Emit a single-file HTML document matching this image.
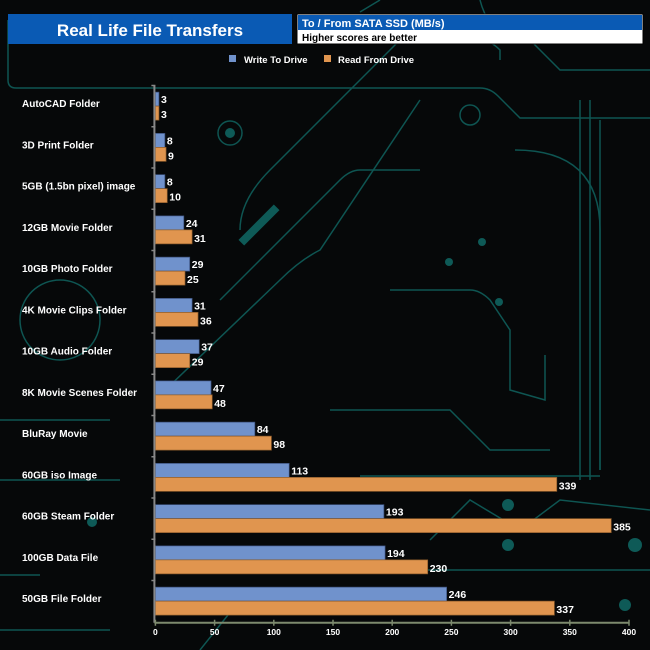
<!DOCTYPE html>
<html><head><meta charset="utf-8"><style>
html,body{margin:0;padding:0;background:#050708;}
svg{display:block;font-family:"Liberation Sans",Arial,sans-serif;}
</style></head><body>
<svg id="chart" width="650" height="650" viewBox="0 0 650 650">
<rect x="0" y="0" width="650" height="650" fill="#060809"/>
<g id="deco" fill="none" stroke="#0e5552" stroke-width="1.5">
<path d="M8,20 V80 Q8,88 16,88 H480 Q490,88 498,96 L520,118 H650"/>
<path d="M380,0 L360,12"/><path d="M480,0 Q490,40 530,40 L560,70 H650"/>
<path d="M240,230 Q240,200 270,170 L400,40 H480 Q490,40 500,50 V60"/>
<path d="M220,300 L340,180 Q350,170 360,170 H420"/>
<path d="M160,395 L280,280 Q300,260 320,250 L420,100"/>
<path d="M390,290 H470 Q480,290 490,300 L510,330 V390 L545,400 V355"/>
<path d="M330,410 H450 L490,450 H550"/>
<path d="M360,476 H600"/><path d="M515,150 Q600,150 600,230 V470"/>
<path d="M580,100 V480"/><path d="M590,100 V480"/><path d="M600,120 V470"/>
<path d="M0,420 H110"/><path d="M0,480 H120"/>
<path d="M0,575 H40"/><path d="M0,630 H110"/>
<path d="M250,570 H650"/><path d="M240,600 L200,650"/>
<path d="M430,540 L470,500 L520,530 L560,500 L650,510"/>
<circle cx="60" cy="320" r="40"/><circle cx="470" cy="115" r="10"/><circle cx="230" cy="133" r="12"/>
</g>
<g fill="#0e5a57">
<circle cx="635" cy="545" r="7"/><circle cx="625" cy="605" r="6"/><circle cx="508" cy="545" r="6"/>
<circle cx="508" cy="505" r="6"/><circle cx="92" cy="522" r="5"/><circle cx="482" cy="242" r="4"/>
<circle cx="449" cy="262" r="4"/><circle cx="499" cy="302" r="4"/><circle cx="230" cy="133" r="5"/>
<rect x="255" y="200" width="8" height="50" transform="rotate(45 259 225)"/>
</g>
<rect x="8" y="14" width="284" height="30" fill="#0a5ab4"/>
<text x="150" y="36" text-anchor="middle" fill="#fff" font-weight="bold" font-size="17">Real Life File Transfers</text>
<rect x="297" y="14" width="346" height="30" fill="#fff" stroke="#000"/>
<rect x="298" y="15" width="344" height="15" fill="#0a5ab4"/>
<text x="302" y="27" fill="#fff" font-weight="bold" font-size="11">To /  From SATA SSD (MB/s)</text>
<text x="302" y="41" fill="#000" font-weight="bold" font-size="10">Higher scores are better</text>
<rect x="229" y="55" width="7" height="7" fill="#7092cc"/>
<text x="244" y="63" fill="#fff" font-weight="bold" font-size="9.5">Write To  Drive</text>
<rect x="324" y="55" width="7" height="7" fill="#e0954f"/>
<text x="338" y="63" fill="#fff" font-weight="bold" font-size="9.5">Read From  Drive</text>
<g id="plot"></g>
</svg>
<script>
const categories=["AutoCAD Folder","3D Print Folder","5GB (1.5bn pixel) image","12GB Movie Folder","10GB Photo Folder","4K Movie Clips Folder","10GB Audio Folder","8K Movie Scenes Folder","BluRay Movie","60GB iso Image","60GB Steam Folder","100GB Data File","50GB File Folder"];
const writeValues=[3,8,8,24,29,31,37,47,84,113,193,194,246];
const readValues=[3,9,10,31,25,36,29,48,98,339,385,230,337];
const xTicks=[0,50,100,150,200,250,300,350,400];
const NS="http://www.w3.org/2000/svg";
const plot=document.getElementById('plot');
const x0=155.4,x1=629,xMax=400,top0=85.5,step=41.25,barH=14;
const xs=v=>x0+v/xMax*(x1-x0);
const rowTop=i=>top0+i*step;
function mk(tag,attrs,txt){const e=document.createElementNS(NS,tag);for(const k in attrs)e.setAttribute(k,attrs[k]);if(txt!==undefined)e.textContent=txt;plot.appendChild(e);return e;}
const axisY=rowTop(categories.length)+1;
categories.forEach((c,i)=>{
  const t=rowTop(i),cy=t+step/2;
  let e=mk('text',{x:22,y:cy+1,fill:'#fff','font-weight':'bold','font-size':'10'},c);
  
  
  const wy=cy-barH, ry=cy;
  const ww=Math.max(xs(writeValues[i])-x0,3), rw=Math.max(xs(readValues[i])-x0,3);
  e=mk('rect',{x:x0,y:wy,width:ww,height:barH,fill:'#7092cc',stroke:'#3a4f7a','stroke-width':'0.7'});
  
  
  e=mk('rect',{x:x0,y:ry,width:rw,height:barH,fill:'#e0954f',stroke:'#8a5a2a','stroke-width':'0.7'});
  
  
  e=mk('text',{x:x0+ww+2,y:wy+11,fill:'#fff','font-weight':'bold','font-size':'10.5'},String(writeValues[i]));
  
  
  e=mk('text',{x:x0+rw+2,y:ry+12,fill:'#fff','font-weight':'bold','font-size':'10.5'},String(readValues[i]));
  
  
  e=mk('line',{x1:x0-4,x2:x0,y1:t,y2:t,stroke:'#888','stroke-width':'1.5'});
  
  
});
let a=mk('line',{x1:x0-1,x2:x0-1,y1:rowTop(0),y2:axisY,stroke:'#888','stroke-width':'2'});


a=mk('line',{x1:x0-1,x2:x1,y1:axisY,y2:axisY,stroke:'#7d8a6e','stroke-width':'2'});


xTicks.forEach(v=>{
  let e=mk('line',{x1:xs(v),x2:xs(v),y1:axisY-3,y2:axisY+3,stroke:'#7d8a6e','stroke-width':'1.5'});
  
  
  e=mk('text',{x:xs(v),y:axisY+12,fill:'#fff','font-weight':'bold','font-size':'8.5','text-anchor':'middle'},String(v));
  
  
});
</script>
</body></html>
